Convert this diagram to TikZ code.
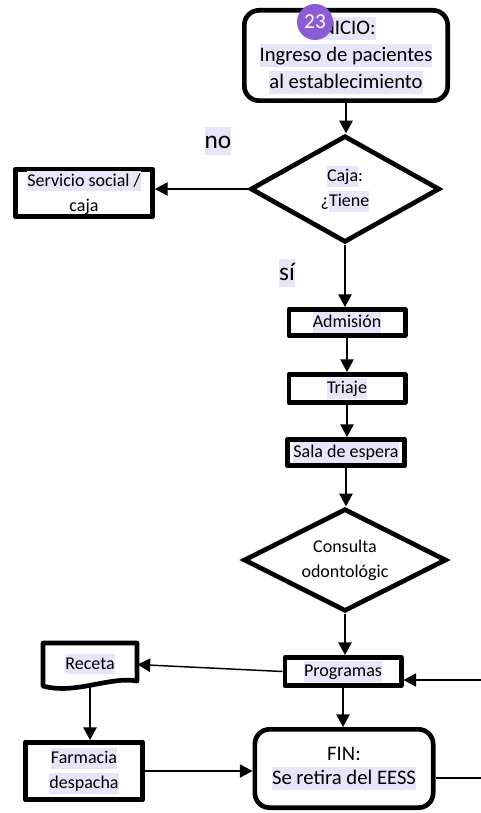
\documentclass[tikz,border=0pt]{standalone}
\usepackage{fontspec}
\setmainfont{Carlito}
\usetikzlibrary{arrows.meta,shapes.geometric}

\definecolor{resalte}{RGB}{232,229,248}
\newcommand{\marca}[1]{{\setlength{\fboxsep}{0pt}\colorbox{resalte}{\rule[-0.27em]{0pt}{1.12em}#1}}}

\tikzset{every picture/.style={line width=0.75pt}}
\tikzset{
  paso/.style={draw, line width=3.5pt, line join=round, fill=white, inner sep=0pt, align=center, font=\fontsize{13.5}{18.75}\selectfont},
  terminal/.style={paso, rounded corners=11pt, font=\fontsize{15.5}{20}\selectfont},
  decision/.style={diamond, aspect=1.8, draw, line width=3.5pt, fill=white, inner sep=0pt, align=center, font=\fontsize{13.5}{18.75}\selectfont},
  rotulo/.style={inner sep=0pt, font=\fontsize{19}{19}\selectfont},
  flecha/.style={line width=1.1pt, -{Triangle[length=9.5pt,width=10pt]}}
}

\begin{document}
\begin{tikzpicture}[x=0.75pt,y=0.75pt,yscale=-1,xscale=1]
	\useasboundingbox (0,0) rectangle (481,813);

	% Text Node
	\draw (346,55.5) node [terminal, minimum width=152.5pt, minimum height=67.75pt] (inicio) {\marca{INICIO:}\\\marca{Ingreso de pacientes}\\\marca{al establecimiento}};
	% Text Node
	\draw (315,22) node [circle, fill={rgb, 255:red, 140; green, 92; blue, 214 }, text=white, minimum size=27pt, inner sep=0pt, font=\fontsize{16}{16}\selectfont] (numero) {23};
	% Text Node
	\draw (345,189) node [decision, minimum width=142pt, minimum height=80pt] (tiene) {\marca{Caja}:\\¿\marca{Tiene}};
	% Text Node
	\draw (84,193) node [paso, minimum width=103pt, minimum height=35.5pt] (servicio) {\marca{Servicio social /}\\caja};
	% Text Node
	\draw (218,141) node [rotulo] (no) {\marca{no}};
	% Text Node
	\draw (287,273) node [rotulo] (si) {\marca{sí}};
	% Text Node
	\draw (347,322.5) node [paso, minimum width=87.25pt, minimum height=19.75pt] (admision) {\marca{Admisión}};
	% Text Node
	\draw (347,388.5) node [paso, minimum width=87.25pt, minimum height=21.25pt] (triaje) {\marca{Triaje}};
	% Text Node
	\draw (346,452.5) node [paso, minimum width=88pt, minimum height=19.75pt] (sala) {\marca{Sala de espera}};
	% Text Node
	\draw (345,560) node [decision, minimum width=152pt, minimum height=77pt] (consulta) {Consulta\\odontológic};
	% Text Node
	\draw (343,671.5) node [paso, minimum width=87.25pt, minimum height=21.25pt] (programas) {\marca{Programas}};

	%Shape: Document [receta]
	\draw [line width=3.5pt, line join=round] (43,643) -- (137,643) -- (137,681) .. controls (110,676) and (75,695) .. (43,686) -- cycle ;
	% Text Node
	\draw (90,664.5) node [inner sep=0pt, minimum width=70.5pt, minimum height=32pt, font=\fontsize{13.5}{18.75}\selectfont] (receta) {\raisebox{4.5pt}{\marca{Receta}}};
	% Text Node
	\draw (84,771) node [paso, minimum width=88pt, minimum height=43pt] (farmacia) {\marca{Farmacia}\\\marca{despacha}};
	% Text Node
	\draw (344,768.5) node [terminal, minimum width=133.75pt, minimum height=58.75pt, font=\fontsize{15.5}{18}\selectfont] (fin) {FIN:\\\marca{Se retira del EESS}};

	\coordinate (entra) at (481,680);
	\coordinate (sale) at (481,778);

	%Straight Lines
	\draw [flecha] (inicio.south) -- (inicio.south |- tiene.north) ;
	\draw [flecha] (tiene.west) -- (tiene.west -| servicio.east) ;
	\draw [flecha] (tiene.south) -- (tiene.south |- admision.north) ;
	\draw [flecha] (admision) -- (triaje) ;
	\draw [flecha] (triaje.south) -- (triaje.south |- sala.north) ;
	\draw [flecha] (sala.south) -- (sala.south |- consulta.north) ;
	\draw [flecha] (consulta.south) -- (consulta.south |- programas.north) ;
	\draw [flecha] (programas.west) -- (receta.east) ;
	\draw [flecha] (entra) -- (entra -| programas.east) ;
	\draw [flecha] (programas.south) -- (programas.south |- fin.north) ;
	\draw [flecha] (receta.south) -- (receta.south |- farmacia.north) ;
	\draw [flecha] (farmacia.east) -- (farmacia.east -| fin.west) ;
	\draw [line width=1.1pt] (fin.east |- sale) -- (sale) ;

\end{tikzpicture}
\end{document}
